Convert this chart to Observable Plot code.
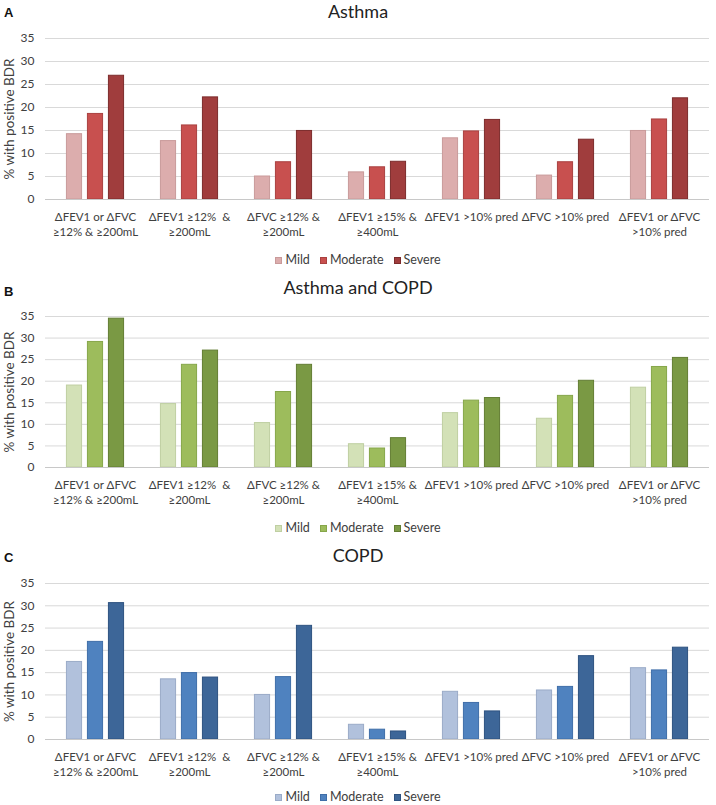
<!DOCTYPE html>
<html>
<head>
<meta charset="utf-8">
<script src="https://cdn.jsdelivr.net/npm/d3@7"></script>
<script src="https://cdn.jsdelivr.net/npm/@observablehq/plot@0.6"></script>
<style>
  html, body { margin: 0; padding: 0; background: #fff; }
  #root { position: relative; width: 716px; height: 805px; overflow: hidden; font-family: Lato, "Open Sans", sans-serif; color: #404040; }
  .letter { position: absolute; left: 4px; font-family: "Liberation Sans", Arial, sans-serif; font-weight: bold; font-size: 13px; color: #111; }
  .title { position: absolute; left: 0; width: 716px; text-align: center; font-size: 18px; color: #222; line-height: 20px; }
  .legend { position: absolute; left: 0; width: 716px; display: flex; justify-content: center; gap: 10px; font-size: 12.5px; line-height: 14px; color: #404040; }
  .legend span.item { display: inline-flex; align-items: center; gap: 3px; }
  .legend span.sw { display: inline-block; width: 7px; height: 7px; box-sizing: border-box; border: 1px solid; }
  .panel { position: absolute; left: 0; }
</style>
</head>
<body>
<div id="root"></div>
<script>
// ---------- data ----------
const categories = [
  "ΔFEV1 or ΔFVC\n≥12% & ≥200mL",
  "ΔFEV1 ≥12%  &\n≥200mL",
  "ΔFVC ≥12% &\n≥200mL",
  "ΔFEV1 ≥15% &\n≥400mL",
  "ΔFEV1 >10% pred",
  "ΔFVC >10% pred",
  "ΔFEV1 or ΔFVC\n>10% pred"
];
const severities = ["Mild", "Moderate", "Severe"];
const yTicks = [0, 5, 10, 15, 20, 25, 30, 35];
const yLabel = "% with positive BDR";

const asthmaMild     = [14.2, 12.7, 5.0, 5.9, 13.3, 5.2, 14.9];
const asthmaModerate = [18.6, 16.1, 8.1, 7.0, 14.8, 8.1, 17.4];
const asthmaSevere   = [26.9, 22.2, 14.9, 8.2, 17.3, 13.0, 22.0];

const overlapMild     = [19.0, 14.7, 10.3, 5.4, 12.6, 11.3, 18.5];
const overlapModerate = [29.1, 23.8, 17.5, 4.4, 15.5, 16.6, 23.3];
const overlapSevere   = [34.5, 27.1, 23.8, 6.8, 16.1, 20.1, 25.4];

const copdMild     = [17.4, 13.5, 10.0, 3.3, 10.7, 11.0, 16.0];
const copdModerate = [21.9, 14.9, 14.0, 2.2, 8.2, 11.8, 15.5];
const copdSevere   = [30.6, 13.9, 25.5, 1.8, 6.3, 18.7, 20.6];

// ---------- panels ----------
const panels = [
  { letter: "A", title: "Asthma", series: [asthmaMild, asthmaModerate, asthmaSevere],
    fills: ["#dcadad", "#c8504f", "#a03d3d"], strokes: ["#c99a9a", "#a94140", "#7c2c2c"],
    letterY: 5, titleY: 1, gridTop: 38, gridBottom: 199, legendY: 253 },
  { letter: "B", title: "Asthma and COPD", series: [overlapMild, overlapModerate, overlapSevere],
    fills: ["#d3e1b7", "#9dbc5c", "#7a9944"], strokes: ["#bfcfa2", "#86a64a", "#627d33"],
    letterY: 284, titleY: 277, gridTop: 316, gridBottom: 467, legendY: 521 },
  { letter: "C", title: "COPD", series: [copdMild, copdModerate, copdSevere],
    fills: ["#b1c1dc", "#4f82bf", "#3d6698"], strokes: ["#9aabc8", "#3f6ea8", "#2e5280"],
    letterY: 550, titleY: 545, gridTop: 583, gridBottom: 739, legendY: 790 }
];

const root = document.getElementById("root");
const marginTop = 10, marginBottom = 50;
const plotW = 716, mL = 45, mR = 7;
const barWidth = 16, barStep = 21;
const bandW = (plotW - mL - mR) / categories.length;
const inset = (bandW - barWidth) / 2;

for (const p of panels) {
  const rows = [];
  severities.forEach((s, si) => {
    categories.forEach((c, ci) => rows.push({ category: c, severity: s, value: p.series[si][ci] }));
  });

  const letter = document.createElement("div");
  letter.className = "letter";
  letter.style.top = p.letterY + "px";
  letter.textContent = p.letter;
  root.appendChild(letter);

  const title = document.createElement("div");
  title.className = "title";
  title.style.top = p.titleY + "px";
  title.textContent = p.title;
  root.appendChild(title);

  const chart = Plot.plot({
    width: plotW,
    height: (p.gridBottom - p.gridTop) + marginTop + marginBottom,
    marginLeft: mL, marginRight: mR, marginTop, marginBottom,
    style: { fontFamily: "Lato, 'Open Sans', sans-serif", fontSize: "11.5px", color: "#404040", background: "white" },
    x: { type: "band", domain: categories, padding: 0 },
    y: { domain: [0, 35] },
    marks: [
      Plot.gridY(yTicks, { stroke: "#d9d9d9", strokeOpacity: 1 }),
      Plot.axisY(yTicks, { tickSize: 0, tickPadding: 11, label: null, fontSize: 12 }),
      Plot.axisX({ tickSize: 0, tickPadding: 10, label: null, lineHeight: 1.35, fontSize: 11.5 }),
      Plot.text([yLabel], { frameAnchor: "left", dx: -36, rotate: -90, textAnchor: "middle", fontSize: 13.5, fill: "#404040" }),
      ...severities.map((s, si) => Plot.barY(rows.filter(r => r.severity === s), {
        x: "category", y: "value",
        fill: p.fills[si], stroke: p.strokes[si], strokeWidth: 1,
        dx: (si - 1) * barStep, insetLeft: inset, insetRight: inset
      })),
      Plot.ruleY([0], { stroke: "#c8c8c8" })
    ]
  });
  chart.classList.add("panel");
  chart.style.top = (p.gridTop - marginTop) + "px";
  root.appendChild(chart);

  const legend = document.createElement("div");
  legend.className = "legend";
  legend.style.top = p.legendY + "px";
  severities.forEach((s, si) => {
    const item = document.createElement("span");
    item.className = "item";
    const sw = document.createElement("span");
    sw.className = "sw";
    sw.style.background = p.fills[si];
    sw.style.borderColor = p.strokes[si];
    item.appendChild(sw);
    const t = document.createElement("span");
    t.textContent = s;
    item.appendChild(t);
    legend.appendChild(item);
  });
  root.appendChild(legend);
}
</script>
</body>
</html>
